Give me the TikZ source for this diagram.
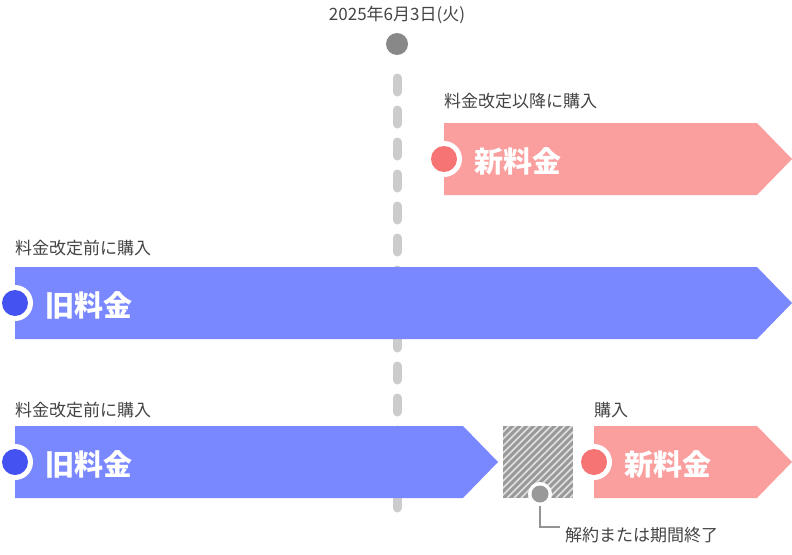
\documentclass[tikz,border=0pt]{standalone}
\usepackage{fontspec}
\setmainfont{Noto Sans CJK JP}
\newfontfamily\jpb{Noto Sans CJK JP}[BoldFont={Noto Sans CJK JP Bold}]
\definecolor{pinkbar}{HTML}{FA9E9E}
\definecolor{reddot}{HTML}{F77474}
\definecolor{bluebar}{HTML}{7A88FF}
\definecolor{bluedot}{HTML}{4352F0}
\definecolor{txt}{HTML}{444444}
\definecolor{gdot}{HTML}{888888}
\begin{document}
\begin{tikzpicture}[x=1pt,y=-1pt,
  lbl/.style={anchor=west,inner sep=0,text=txt,font=\fontsize{17}{17}\selectfont},
  big/.style={anchor=west,inner sep=0,text=white,font=\fontsize{29}{29}\selectfont\bfseries},
  ring/.style={circle,fill=white,minimum size=36pt,inner sep=0},
]
\useasboundingbox (0,0) rectangle (792,554);
% dashed line
\draw[line width=9pt,color=black!20,line cap=round,dash pattern=on 14pt off 18pt] (397,78) -- (397,515);
\node[circle,fill=gdot,minimum size=22pt,inner sep=0] (d) at (397,44) {};
\node[anchor=south,inner sep=0,text=txt,font=\fontsize{17}{17}\selectfont] (dl) at (397,24) {2025年6月3日(火)};
% top pink
\fill[pinkbar] (444,123) -- (757,123) -- (792,159) -- (757,195) -- (444,195) -- cycle;
\node[ring] (r1) at (444,159) {};
\node[circle,fill=reddot,minimum size=26pt,inner sep=0] (c1) at (444,159) {};
\node[big] (t1) at (474,161) {新料金};
\node[lbl] (l1) at (444,101) {料金改定以降に購入};
% middle blue
\fill[bluebar] (15,267) -- (757,267) -- (792,303) -- (757,339) -- (15,339) -- cycle;
\node[ring] (r2) at (15,303) {};
\node[circle,fill=bluedot,minimum size=26pt,inner sep=0] (c2) at (15,303) {};
\node[big] (t2) at (45,305) {旧料金};
\node[lbl] (l2) at (15,248) {料金改定前に購入};
% bottom blue
\fill[bluebar] (15,426) -- (463,426) -- (498,462) -- (463,498) -- (15,498) -- cycle;
\node[ring] (r3) at (15,462) {};
\node[circle,fill=bluedot,minimum size=26pt,inner sep=0] (c3) at (15,462) {};
\node[big] (t3) at (45,464) {旧料金};
\node[lbl] (l3) at (15,410) {料金改定前に購入};
% hatched box
\fill[black!40] (503,426) rectangle (573,498);
\begin{scope}
\clip (503,426) rectangle (573,498);
\foreach \i in {0,...,22} {
  \draw[white!70!black!40,line width=1.6pt] (503+\i*7-80,498) -- (503+\i*7,418);
}
\end{scope}
% bottom pink
\fill[pinkbar] (594,426) -- (757,426) -- (792,462) -- (757,498) -- (594,498) -- cycle;
\node[ring] (r4) at (594,462) {};
\node[circle,fill=reddot,minimum size=26pt,inner sep=0] (c4) at (594,462) {};
\node[big] (t4) at (624,464) {新料金};
\node[lbl] (l4) at (594,410) {購入};
% callout
\coordinate (k) at (540,527);
\draw[gdot!90,line width=2.5pt] (540,494) -- (k) -- (560,527);
\node[circle,fill=white,minimum size=24pt,inner sep=0] (gr) at (540,494) {};
\node[circle,fill=black!40,minimum size=17pt,inner sep=0] (g) at (540,494) {};
\node[lbl] (l5) at (565,535) {解約または期間終了};
\end{tikzpicture}
\end{document}
